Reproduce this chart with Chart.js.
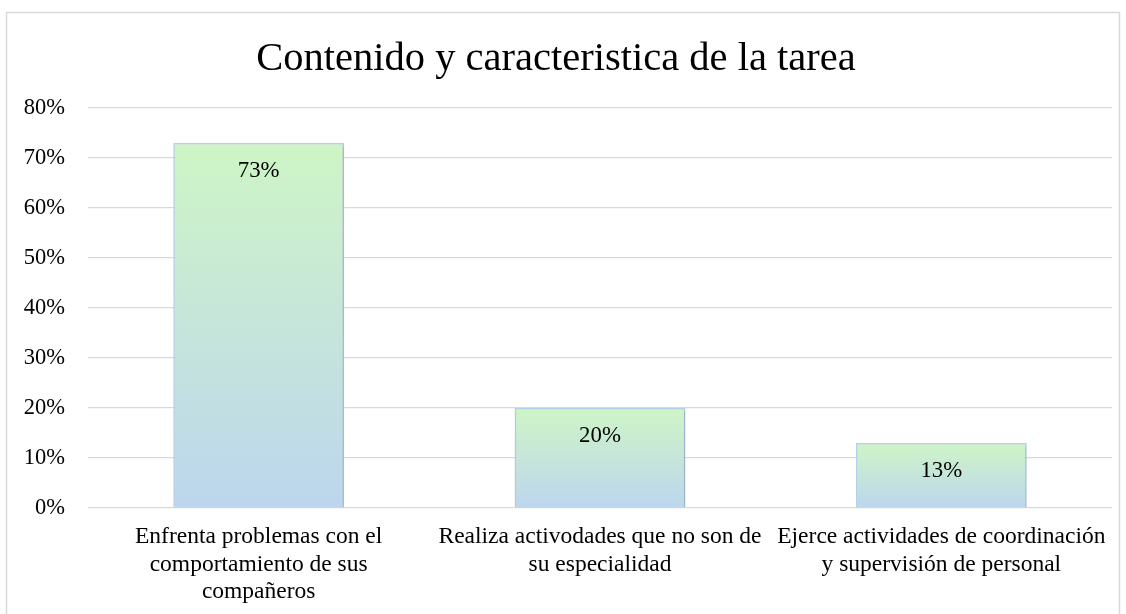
<!DOCTYPE html>
<html>
<head>
<meta charset="utf-8">
<script src="https://cdn.jsdelivr.net/npm/chart.js@4/dist/chart.umd.min.js"></script>
<style>
  html, body { margin: 0; padding: 0; background: #ffffff; }
  #wrap { position: relative; width: 1126px; height: 614px; }
</style>
</head>
<body>
<div id="wrap"><canvas id="c" width="1126" height="614"></canvas></div>
<script>
const titleText = 'Contenido y caracteristica de la tarea';
const categories = [
  ['Enfrenta problemas con el', 'comportamiento de sus', 'compañeros'],
  ['Realiza activodades que no son de', 'su especialidad'],
  ['Ejerce actividades de coordinación', 'y supervisión de personal']
];
const values = [73, 20, 13];
const yTicks = [0, 10, 20, 30, 40, 50, 60, 70, 80];

const FONT = '"Liberation Serif", "Times New Roman", serif';

const frame = {
  id: 'frame',
  beforeDraw(chart) {
    const ctx = chart.ctx;
    ctx.save();
    ctx.fillStyle = '#ffffff';
    ctx.fillRect(0, 0, chart.width, chart.height);
    ctx.strokeStyle = '#d9d9d9';
    ctx.lineWidth = 1.5;
    ctx.strokeRect(6.5, 12.5, 1113, 610);
    ctx.restore();
  }
};

const shadow = {
  id: 'shadow',
  beforeDatasetDraw(chart) {
    const ctx = chart.ctx;
    ctx.save();
    ctx.shadowColor = 'rgba(0,0,0,0.22)';
    ctx.shadowBlur = 3;
    ctx.shadowOffsetX = 1;
    ctx.shadowOffsetY = 1;
  },
  afterDatasetDraw(chart) {
    chart.ctx.restore();
  }
};

const labels = {
  id: 'valueLabels',
  afterDatasetsDraw(chart) {
    const ctx = chart.ctx;
    const meta = chart.getDatasetMeta(0);
    ctx.save();
    ctx.font = '22.8px ' + FONT;
    ctx.fillStyle = '#000000';
    ctx.textAlign = 'center';
    ctx.textBaseline = 'middle';
    meta.data.forEach((bar, i) => {
      ctx.fillText(values[i] + '%', bar.x, bar.y + 28);
    });
    ctx.restore();
  }
};

function barGradient(context) {
  const chart = context.chart;
  if (!chart.chartArea || !chart.scales.y) return '#c8e8d8';
  const v = values[context.dataIndex];
  const y = chart.scales.y;
  const top = y.getPixelForValue(v);
  const bottom = y.getPixelForValue(0);
  if (!isFinite(top) || !isFinite(bottom) || top === bottom) return '#c8e8d8';
  const g = chart.ctx.createLinearGradient(0, top, 0, bottom);
  g.addColorStop(0, '#cef5c6');
  g.addColorStop(1, '#bcd6ee');
  return g;
}

new Chart(document.getElementById('c'), {
  type: 'bar',
  data: {
    labels: categories,
    datasets: [{
      data: values,
      backgroundColor: barGradient,
      borderColor: '#b7d0ea',
      borderWidth: 1.5,
      barPercentage: 0.5,
      categoryPercentage: 1.0
    }]
  },
  options: {
    responsive: false,
    animation: false,
    events: [],
    layout: { padding: { left: 0, right: 14, top: 0, bottom: 0 } },
    plugins: {
      legend: { display: false },
      tooltip: { enabled: false },
      title: {
        display: true,
        text: titleText,
        color: '#000000',
        font: { family: FONT, size: 40.5, weight: 'normal', lineHeight: 1.2 },
        padding: { top: 35, bottom: 24.4 }
      }
    },
    scales: {
      x: {
        grid: { display: false, drawTicks: false },
        border: { display: false },
        ticks: {
          color: '#000000',
          font: { family: FONT, size: 23.5, lineHeight: 1.18 },
          padding: 15,
          autoSkip: false,
          maxRotation: 0,
          minRotation: 0
        },
        afterFit(scale) { scale.height = 106; }
      },
      y: {
        min: 0,
        max: 80,
        afterBuildTicks(scale) { scale.ticks = yTicks.map(v => ({ value: v })); },
        grid: { color: '#d9d9d9', lineWidth: 1.3, drawTicks: false },
        border: { display: false },
        ticks: {
          color: '#000000',
          font: { family: FONT, size: 22.5 },
          padding: 23,
          callback: v => v + '%'
        },
        afterFit(scale) { scale.width = 88; }
      }
    }
  },
  plugins: [frame, shadow, labels]
});
</script>
</body>
</html>
